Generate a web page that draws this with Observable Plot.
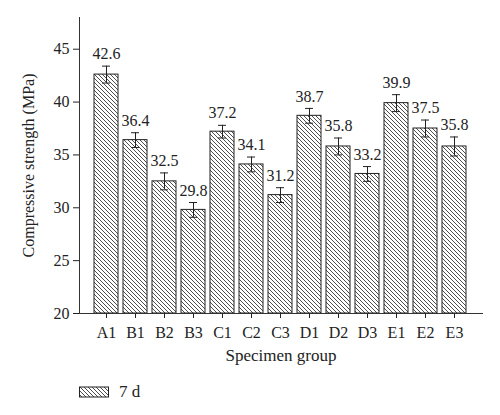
<!DOCTYPE html>
<html>
<head>
<meta charset="utf-8">
<script src="https://cdn.jsdelivr.net/npm/d3@7"></script>
<script src="https://cdn.jsdelivr.net/npm/@observablehq/plot@0.6"></script>
<style>
  body { margin: 0; background: #fff; font-family: "Liberation Serif", serif; }
  #wrap { position: relative; width: 500px; height: 415px; }
  #legend { position: absolute; left: 79px; top: 381px; height: 22px; display: flex; align-items: center; font-size: 17px; color: #222; }
  #legend span { margin-left: 10px; }
</style>
</head>
<body>
<div id="wrap">
  <div id="chart"></div>
  <div id="legend">
    <svg width="30" height="12"><defs><pattern id="hatchL" patternUnits="userSpaceOnUse" width="4" height="4"><path d="M-1,-1 L5,5 M-1,3 L1,5 M3,-1 L5,1" stroke="#222" stroke-width="0.8"/></pattern></defs><rect x="0.5" y="1" width="29" height="10" fill="url(#hatchL)" stroke="#222" stroke-width="1"/></svg>
    <span>7 d</span>
  </div>
</div>
<script>
const categories = ["A1","B1","B2","B3","C1","C2","C3","D1","D2","D3","E1","E2","E3"];
const values = [42.6, 36.4, 32.5, 29.8, 37.2, 34.1, 31.2, 38.7, 35.8, 33.2, 39.9, 37.5, 35.8];
const errors = [0.8, 0.7, 0.8, 0.7, 0.6, 0.7, 0.7, 0.7, 0.8, 0.7, 0.8, 0.8, 0.9];
const yTicks = [20, 25, 30, 35, 40, 45];
const yDomain = [20, 48];

const data = categories.map((g, i) => ({group: g, value: values[i], err: errors[i]}));
const base = yDomain[0];

const chart = Plot.plot({
  width: 500,
  height: 370,
  marginLeft: 79,
  marginRight: 18,
  marginTop: 17,
  marginBottom: 57,
  style: {fontFamily: "Liberation Serif, serif", fontSize: "16px", color: "#222", background: "white"},
  x: {domain: categories, paddingInner: 0.17, paddingOuter: 0.5, label: null},
  y: {domain: yDomain, label: null},
  marks: [
    Plot.barY(data, {x: "group", y1: () => base, y2: "value", fill: "url(#hatch)", stroke: "#222", strokeWidth: 1}),
    Plot.ruleX(data, {x: "group", y1: d => d.value - d.err, y2: d => d.value + d.err, stroke: "#222", strokeWidth: 1}),
    Plot.tickY(data, {x: "group", y: d => d.value + d.err, stroke: "#222", strokeWidth: 1, insetLeft: 8, insetRight: 8}),
    Plot.tickY(data, {x: "group", y: d => d.value - d.err, stroke: "#222", strokeWidth: 1, insetLeft: 8, insetRight: 8}),
    Plot.text(data, {x: "group", y: d => d.value + d.err, text: d => d.value.toFixed(1), dy: -12, fontSize: 16, fill: "#222"}),
    Plot.frame({anchor: "left", stroke: "#333"}),
    Plot.frame({anchor: "bottom", stroke: "#333"}),
    Plot.axisY({ticks: yTicks, tickSize: 6, tickPadding: 4, fontSize: 16, label: "Compressive strength (MPa)", labelAnchor: "center", labelOffset: 57, labelArrow: false}),
    Plot.axisX({tickSize: 5, tickPadding: 8, fontSize: 16, label: null}),
    Plot.axisX({tickSize: 0, ticks: [], fontSize: 17, label: "Specimen group", labelAnchor: "center", labelOffset: 47, labelArrow: false})
  ]
});

const ns = "http://www.w3.org/2000/svg";
const defs = document.createElementNS(ns, "defs");
defs.innerHTML = '<pattern id="hatch" patternUnits="userSpaceOnUse" width="4" height="4"><path d="M-1,-1 L5,5 M-1,3 L1,5 M3,-1 L5,1" stroke="#222" stroke-width="0.8"/></pattern>';
chart.insertBefore(defs, chart.firstChild);
document.getElementById("chart").appendChild(chart);
</script>
</body>
</html>
